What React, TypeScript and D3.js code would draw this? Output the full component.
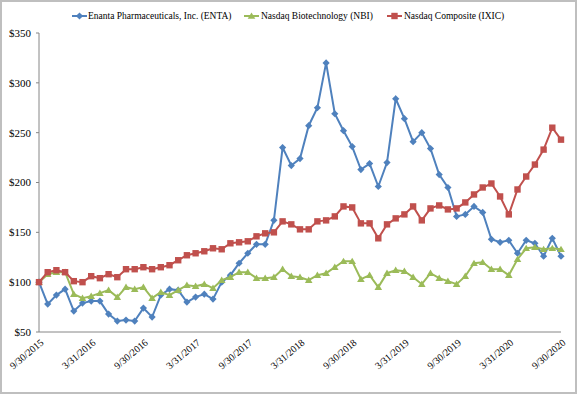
import React from 'react';
import * as d3 from 'd3';

// monthly values, 9/30/2015 .. 9/30/2020 (indexed to $100)
const enta = [
  100, 78, 87, 93, 71, 79, 81, 81, 68, 61, 62, 61, 74, 65, 87, 93, 92, 80, 85, 88,
  83, 100, 107, 119, 129, 138, 138, 162, 235, 217, 224, 257, 275, 320, 269, 252, 236, 213, 219, 196,
  220, 284, 264, 241, 250, 234, 208, 195, 166, 168, 176, 170, 143, 140, 142, 129, 142, 139, 126, 144,
  126,
];
const nbi = [
  100, 108, 110, 110, 88, 84, 86, 89, 92, 85, 95, 93, 95, 84, 90, 87, 92, 97, 96, 98,
  94, 102, 105, 110, 110, 104, 104, 105, 113, 106, 105, 102, 107, 109, 115, 121, 121, 103, 107, 95,
  109, 112, 111, 105, 98, 109, 104, 101, 98, 106, 119, 120, 113, 113, 107, 123, 134, 135, 133, 134,
  133,
];
const ixic = [
  100, 110, 112, 110, 101, 100, 106, 104, 108, 105, 113, 113, 115, 113, 115, 117, 122, 127, 129, 131,
  134, 133, 139, 140, 141, 146, 149, 150, 161, 158, 153, 153, 161, 162, 166, 176, 175, 159, 159, 144,
  158, 164, 168, 176, 162, 174, 177, 173, 174, 180, 188, 195, 199, 186, 168, 193, 206, 218, 233, 255,
  243,
];
const tickLabels = [
  '9/30/2015', '3/31/2016', '9/30/2016', '3/31/2017', '9/30/2017', '3/31/2018',
  '9/30/2018', '3/31/2019', '9/30/2019', '3/31/2020', '9/30/2020',
];
const yTicks = [50, 100, 150, 200, 250, 300, 350];

const series = [
  { name: 'Enanta Pharmaceuticals, Inc. (ENTA)', values: enta, color: '#4F81BD', marker: 'diamond' },
  { name: 'Nasdaq Biotechnology (NBI)', values: nbi, color: '#9BBB59', marker: 'triangle' },
  { name: 'Nasdaq Composite (IXIC)', values: ixic, color: '#C0504D', marker: 'square' },
];

const W = 579;
const H = 396;
const font = '"Liberation Serif", "Times New Roman", serif';

function Marker({ type, x, y, color }) {
  if (type === 'diamond') {
    return <path d={`M${x},${y - 3.6}L${x + 3.6},${y}L${x},${y + 3.6}L${x - 3.6},${y}Z`} fill={color} />;
  }
  if (type === 'triangle') {
    return <path d={`M${x},${y - 3.6}L${x + 3.8},${y + 2.8}L${x - 3.8},${y + 2.8}Z`} fill={color} />;
  }
  return <rect x={x - 3.2} y={y - 3.2} width={6.4} height={6.4} fill={color} />;
}

export default function App() {
  const x = d3.scaleLinear().domain([0, 60]).range([39, 561]);
  const y = d3.scaleLinear().domain([50, 350]).range([332, 33]);
  const line = d3.line<number>().x((d, i) => x(i)).y((d) => y(d));

  // legend swatch start / text start
  const legendPos = [
    { lx: 72, tx: 88 },
    { lx: 244, tx: 261 },
    { lx: 387, tx: 404 },
  ];

  return (
    <div style={{ position: 'absolute', left: 0, top: 0 }}>
      <svg width={W} height={H} style={{ display: 'block', fontFamily: font }}>
        <rect x={0} y={0} width={W} height={H} fill="#fff" />
        <rect x={1} y={1} width={575} height={392} fill="none" stroke="#bfbfbf" strokeWidth={2} />

        {/* legend */}
        {series.map((s, i) => (
          <g key={s.name}>
            <line x1={legendPos[i].lx} x2={legendPos[i].lx + 15} y1={16} y2={16} stroke={s.color} strokeWidth={2} />
            <Marker type={s.marker} x={legendPos[i].lx + 7.5} y={16} color={s.color} />
            <text x={legendPos[i].tx} y={16} dy="0.35em" fontSize={9.5} fill="#000">{s.name}</text>
          </g>
        ))}

        {/* y axis */}
        <line x1={39} x2={39} y1={y(350)} y2={y(50)} stroke="#868686" strokeWidth={1} />
        {yTicks.map((t) => (
          <g key={t}>
            <line x1={36} x2={39} y1={y(t)} y2={y(t)} stroke="#868686" />
            <text x={31} y={y(t)} dy="0.35em" textAnchor="end" fontSize={11} fill="#000">{`$${t}`}</text>
          </g>
        ))}

        {/* x axis */}
        <line x1={39} x2={561} y1={y(50)} y2={y(50)} stroke="#868686" strokeWidth={1} />
        {tickLabels.map((lab, i) => {
          const tx = x(i * 6);
          return (
            <text key={lab} transform={`translate(${tx + 3},${341}) rotate(-40)`} textAnchor="end" fontSize={10} dy="0.35em" fill="#000">
              {lab}
            </text>
          );
        })}

        {/* series */}
        {series.map((s) => (
          <g key={s.name}>
            <path d={line(s.values) || ''} fill="none" stroke={s.color} strokeWidth={2} />
            {s.values.map((v, i) => (
              <Marker key={i} type={s.marker} x={x(i)} y={y(v)} color={s.color} />
            ))}
          </g>
        ))}
      </svg>
    </div>
  );
}
